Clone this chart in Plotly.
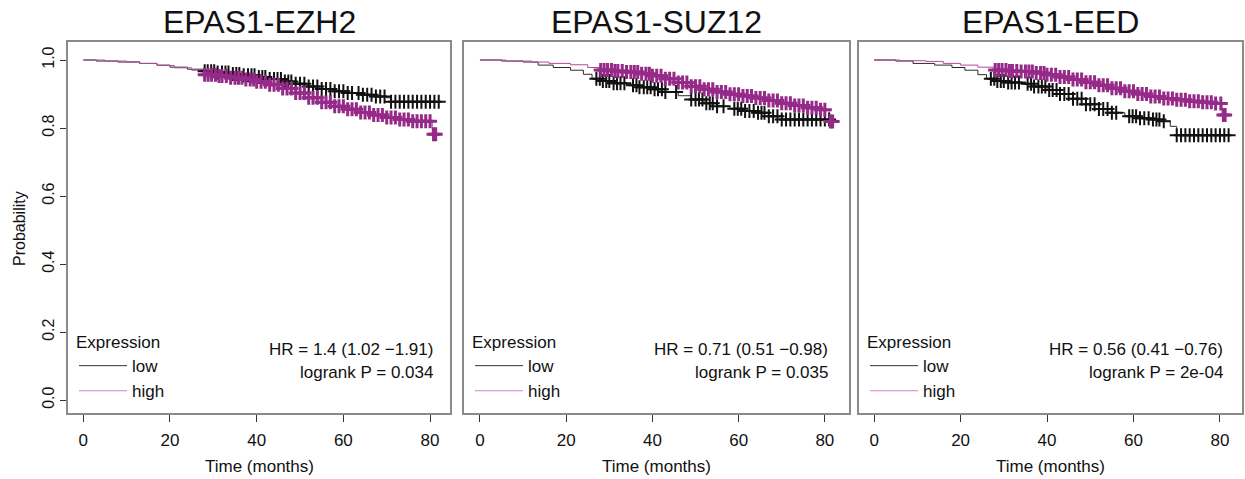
import numpy as np
import plotly.graph_objects as go

W, H = 1245, 479

panel_titles = ["EPAS1-EZH2", "EPAS1-SUZ12", "EPAS1-EED"]
hr_texts = ["HR = 1.4 (1.02 \u22121.91)", "HR = 0.71 (0.51 \u22120.98)", "HR = 0.56 (0.41 \u22120.76)"]
p_texts = ["logrank P = 0.034", "logrank P = 0.035", "logrank P = 2e-04"]

# ---- Panel 1 : EPAS1-EZH2 ----
p1_low_t = [0, 3, 8, 13, 17, 20, 24, 28, 31, 34, 37, 40, 43, 46, 49, 52, 55, 58, 61, 64, 67, 70, 71, 82.5]
p1_low_s = [1.0, 0.997, 0.994, 0.99, 0.985, 0.979, 0.973, 0.967, 0.963, 0.959, 0.955, 0.95, 0.944, 0.937, 0.93, 0.922, 0.915, 0.908, 0.903, 0.898, 0.893, 0.889, 0.877, 0.877]
p1_low_c = [28, 28.7, 29.5, 30.2, 31, 32, 32.8, 33.5, 34.5, 35.3, 36, 37, 38, 38.8, 39.5, 40.5, 41.3, 42, 43, 44, 44.8,
            45.6, 46.5, 47.3, 48, 49, 50, 51, 52, 53, 54, 55, 56, 57, 58, 59, 60, 61, 62, 63.5, 64.5, 65.5, 66.5,
            67.5, 68.5, 69.5, 71, 72, 73, 74, 75, 76, 77, 78, 79, 80, 81, 82]
p1_high_t = [0, 5, 10, 13, 17, 21, 25, 28, 31, 34, 37, 40, 43, 46, 49, 52, 55, 58, 61, 64, 67, 70, 73, 76, 80.5, 81.5]
p1_high_s = [1.0, 0.997, 0.995, 0.99, 0.984, 0.977, 0.97, 0.957, 0.953, 0.948, 0.943, 0.936, 0.927, 0.916, 0.903, 0.889, 0.876, 0.864, 0.855, 0.846, 0.838, 0.831, 0.825, 0.82, 0.782, 0.782]
p1_high_c = [28, 28.8, 29.6, 30.5, 31.3, 32, 33, 34, 35, 35.8, 36.6, 37.5, 38.5, 39.3, 40, 41, 42, 43, 44, 45, 46,
             47, 48, 49, 50, 51, 52, 53, 54, 55, 56, 57, 58, 59, 60, 61, 62, 63, 64, 65, 66, 67, 68, 69, 70, 71,
             72, 73, 74, 75, 76, 77, 78, 79, 80, 80.8, 81.3]

# ---- Panel 2 : EPAS1-SUZ12 ----
p2_low_t = [0, 5, 10, 13.5, 17, 21, 24, 26, 28, 31, 34, 37, 40, 43, 46, 49, 52, 55, 58, 61, 64, 67, 70, 82]
p2_low_s = [1.0, 0.997, 0.994, 0.985, 0.978, 0.97, 0.958, 0.945, 0.938, 0.932, 0.926, 0.92, 0.914, 0.906, 0.895, 0.884, 0.873, 0.864, 0.857, 0.85, 0.845, 0.835, 0.825, 0.822]
p2_low_c = [27, 27.8, 28.5, 29.3, 30, 31, 31.8, 32.6, 33.5, 35.5, 36.3, 37, 38, 38.8, 39.6, 40.5, 41.3, 42.2, 43,
            45.5, 49, 50, 50.8, 51.6, 52.5, 53.3, 54, 55, 56.5, 59, 59.8, 60.6, 61.5, 62.5, 63.5, 64.5, 65.3, 66,
            67, 68, 69, 70, 71, 72, 73, 74, 75, 76, 77, 78, 79, 80, 81]
p2_high_t = [0, 6, 12, 16, 21, 25, 28, 31, 34, 37, 40, 43, 46, 49, 52, 55, 58, 61, 64, 67, 70, 73, 76, 79, 81, 82]
p2_high_s = [1.0, 0.997, 0.994, 0.99, 0.986, 0.978, 0.971, 0.968, 0.965, 0.96, 0.954, 0.945, 0.934, 0.923, 0.914, 0.906, 0.899, 0.894, 0.888, 0.881, 0.873, 0.866, 0.86, 0.854, 0.819, 0.819]
p2_high_c = [28, 28.8, 29.6, 30.5, 31.3, 32, 33, 34, 35, 35.8, 36.6, 37.5, 38.5, 39.3, 40, 41, 42, 43, 44, 45, 46,
             47, 48, 49, 50, 51, 52, 53, 54, 55, 56, 57, 58, 59, 60, 61, 62, 63, 64, 65, 66, 67, 68, 69, 70, 71,
             72, 73, 74, 75, 76, 77, 78, 79, 80, 81.3, 81.8]

# ---- Panel 3 : EPAS1-EED ----
p3_low_t = [0, 5, 9, 14, 18, 21, 24, 26, 28, 31, 34, 37, 40, 43, 46, 49, 52, 55, 58, 61, 64, 67, 68.5, 70, 82.5]
p3_low_s = [1.0, 0.997, 0.99, 0.985, 0.978, 0.97, 0.957, 0.945, 0.938, 0.934, 0.93, 0.922, 0.912, 0.9, 0.886, 0.87, 0.856, 0.845, 0.835, 0.829, 0.825, 0.82, 0.805, 0.779, 0.779]
p3_low_c = [27, 27.8, 28.5, 29.3, 30, 31, 31.8, 32.6, 33.5, 35.5, 36.3, 37, 38, 38.8, 39.6, 40.5, 41.3, 42.2, 43,
            44, 45, 46, 47, 48, 49, 50, 51, 52, 53, 54, 55, 56, 59, 59.8, 60.6, 61.5, 62.5, 63.5, 64.5, 65.3, 66,
            67, 70, 71, 72, 73, 74, 75, 76, 77, 78, 79, 80, 81, 82]
p3_high_t = [0, 6, 12, 16, 20, 24, 28, 31, 34, 37, 40, 43, 46, 49, 52, 55, 58, 61, 64, 67, 70, 73, 76, 79, 80.5, 81.5]
p3_high_s = [1.0, 0.998, 0.996, 0.99, 0.985, 0.979, 0.971, 0.968, 0.966, 0.962, 0.957, 0.95, 0.943, 0.935, 0.926, 0.917, 0.908, 0.9, 0.893, 0.887, 0.883, 0.879, 0.876, 0.872, 0.838, 0.838]
p3_high_c = [28, 28.8, 29.6, 30.5, 31.3, 32, 33, 34, 35, 35.8, 36.6, 37.5, 38.5, 39.3, 40, 41, 42, 43, 44, 45, 46,
             47, 48, 49, 50, 51, 52, 53, 54, 55, 56, 57, 58, 59, 60, 61, 62, 63, 64, 65, 66, 67, 68, 69, 70, 71,
             72, 73, 74, 75, 76, 77, 78, 79, 80.2, 80.8, 81.2]

x_ticks = [0, 20, 40, 60, 80]
y_ticks = [0.0, 0.2, 0.4, 0.6, 0.8, 1.0]
y_tick_labels = ["0.0", "0.2", "0.4", "0.6", "0.8", "1.0"]

panels = [
    (p1_low_t, p1_low_s, p1_low_c, p1_high_t, p1_high_s, p1_high_c),
    (p2_low_t, p2_low_s, p2_low_c, p2_high_t, p2_high_s, p2_high_c),
    (p3_low_t, p3_low_s, p3_low_c, p3_high_t, p3_high_s, p3_high_c),
]

LOW_LINE = "#2b2b2b"
LOW_MARK = "#111111"
HIGH_LINE = "#b24aa3"
HIGH_MARK = "#952a88"
FONT = "Liberation Sans, Arial, sans-serif"

x_domains = [(68 / W, 450 / W), (464 / W, 849 / W), (859 / W, 1242 / W)]
x_ranges = [(-3.53, 84.6), (-3.7, 85.6), (-3.5, 85.1)]
y_domain = (1 - 413 / H, 1 - 42 / H)
y_range = (-0.038, 1.053)


def step_value(times, surv, t):
    idx = np.searchsorted(np.asarray(times), np.asarray(t), side="right") - 1
    return np.asarray(surv)[np.clip(idx, 0, len(surv) - 1)]


fig = go.Figure()
for i, (lt, ls, lc, ht, hs, hc) in enumerate(panels):
    xa = "x" if i == 0 else f"x{i + 1}"
    ya = "y" if i == 0 else f"y{i + 1}"
    lg = "legend" if i == 0 else f"legend{i + 1}"
    fig.add_trace(go.Scatter(x=lt, y=ls, mode="lines", line=dict(color=LOW_LINE, width=1, shape="hv"),
                             xaxis=xa, yaxis=ya, showlegend=False, hoverinfo="skip"))
    fig.add_trace(go.Scatter(x=ht, y=hs, mode="lines", line=dict(color=HIGH_LINE, width=1, shape="hv"),
                             xaxis=xa, yaxis=ya, showlegend=False, hoverinfo="skip"))
    fig.add_trace(go.Scatter(x=lc, y=step_value(lt, ls, lc), mode="markers",
                             marker=dict(symbol="cross-thin", size=10, line=dict(color=LOW_MARK, width=2)),
                             xaxis=xa, yaxis=ya, showlegend=False, hoverinfo="skip"))
    fig.add_trace(go.Scatter(x=hc, y=step_value(ht, hs, hc), mode="markers",
                             marker=dict(symbol="cross-thin", size=10, line=dict(color=HIGH_MARK, width=3)),
                             xaxis=xa, yaxis=ya, showlegend=False, hoverinfo="skip"))
    fig.add_trace(go.Scatter(x=[None], y=[None], mode="lines", name="low",
                             line=dict(color="#333333", width=1), xaxis=xa, yaxis=ya, legend=lg))
    fig.add_trace(go.Scatter(x=[None], y=[None], mode="lines", name="high",
                             line=dict(color="#d47cc6", width=1), xaxis=xa, yaxis=ya, legend=lg))

layout = dict(
    width=W, height=H,
    margin=dict(l=0, r=0, t=0, b=0),
    paper_bgcolor="white", plot_bgcolor="white",
    font=dict(family=FONT, size=17, color="#111111"),
    showlegend=True,
)
for i in range(3):
    xk = "xaxis" if i == 0 else f"xaxis{i + 1}"
    yk = "yaxis" if i == 0 else f"yaxis{i + 1}"
    layout[xk] = dict(domain=list(x_domains[i]), range=list(x_ranges[i]), tickvals=x_ticks,
                      ticks="outside", ticklen=7, tickcolor="#333", tickwidth=1,
                      showline=True, linecolor="#8a8a8a", linewidth=1.5, mirror=True,
                      showgrid=False, zeroline=False, tickfont=dict(size=17),
                      anchor="y" if i == 0 else f"y{i + 1}", ticklabelstandoff=4)
    ydict = dict(domain=list(y_domain), range=list(y_range), showline=True, linecolor="#8a8a8a",
                 linewidth=1.5, mirror=True, showgrid=False, zeroline=False,
                 anchor="x" if i == 0 else f"x{i + 1}")
    if i == 0:
        ydict.update(tickvals=y_ticks, ticktext=y_tick_labels, ticks="outside", ticklen=6, tickcolor="#333",
                     tickangle=-90, tickfont=dict(size=16))
    else:
        ydict.update(showticklabels=False, ticks="")
    layout[yk] = ydict
    lg = "legend" if i == 0 else f"legend{i + 1}"
    layout[lg] = dict(x=x_domains[i][0] + 6 / W, y=1 - 326 / H, xanchor="left", yanchor="top",
                      bgcolor="rgba(0,0,0,0)", title=dict(text="Expression", font=dict(size=17)),
                      font=dict(size=17), itemwidth=48, tracegroupgap=0)

fig.update_layout(**layout)

ann = []
for i in range(3):
    xa = "x" if i == 0 else f"x{i + 1}"
    ya = "y" if i == 0 else f"y{i + 1}"
    cx = (x_domains[i][0] + x_domains[i][1]) / 2
    ann.append(dict(text=panel_titles[i], xref="paper", yref="paper", x=cx, y=1 - 22 / H,
                    xanchor="center", yanchor="middle", showarrow=False, font=dict(size=32)))
    ann.append(dict(text="Time (months)", xref="paper", yref="paper", x=cx, y=1 - 466 / H,
                    xanchor="center", yanchor="middle", showarrow=False, font=dict(size=17)))
    ann.append(dict(text=hr_texts[i], xref=xa, yref=ya, x=81.2, y=0.148, xanchor="right",
                    yanchor="middle", showarrow=False, font=dict(size=17)))
    ann.append(dict(text=p_texts[i], xref=xa, yref=ya, x=81.2, y=0.08, xanchor="right",
                    yanchor="middle", showarrow=False, font=dict(size=17)))
ann.append(dict(text="Probability", xref="paper", yref="paper", x=20 / W, y=1 - 228 / H, textangle=-90,
                xanchor="center", yanchor="middle", showarrow=False, font=dict(size=16)))
fig.update_layout(annotations=ann)

fig.write_html("out.html", config={"displayModeBar": False},
               post_script="document.body.style.margin='0';document.body.style.overflow='hidden';")
